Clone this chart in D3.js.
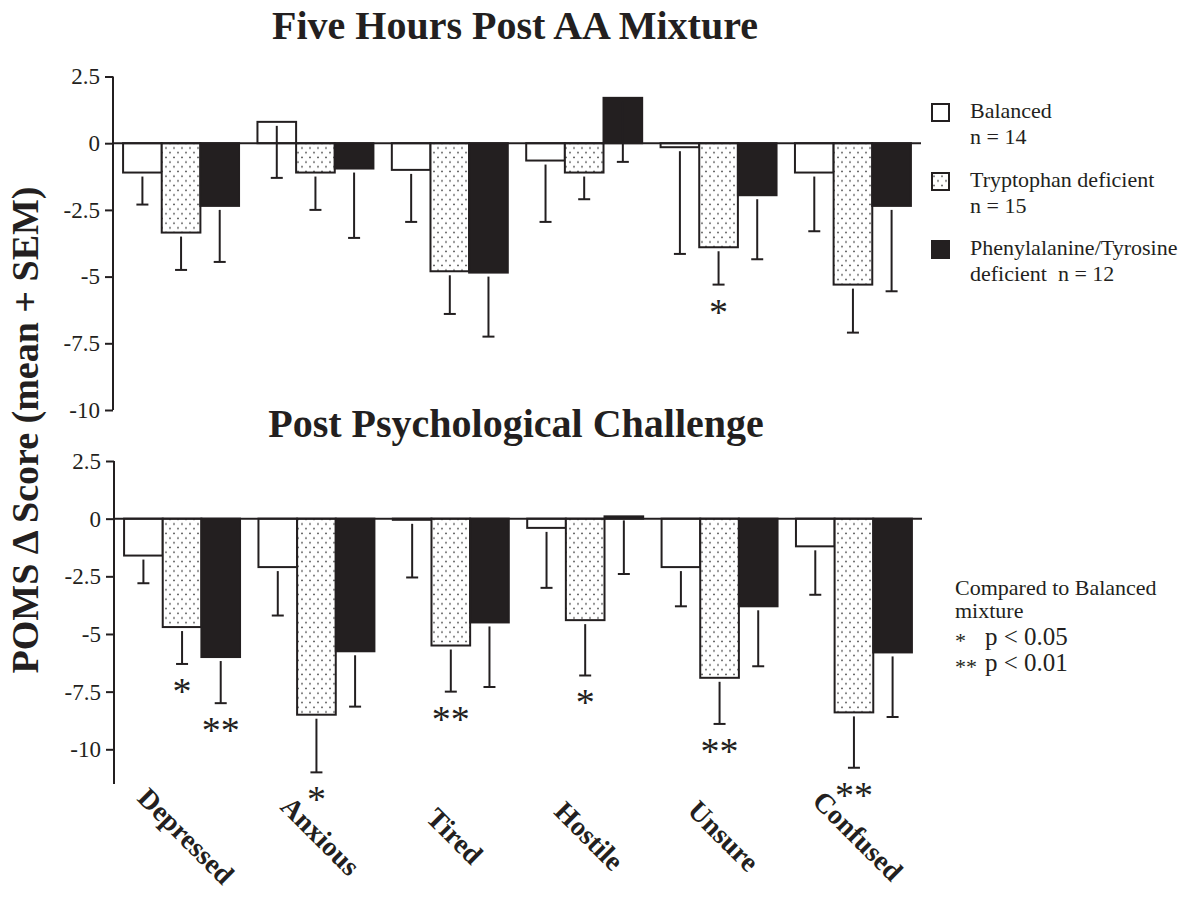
<!DOCTYPE html>
<html>
<head>
<meta charset="utf-8">
<script src="https://cdn.jsdelivr.net/npm/d3@7/dist/d3.min.js"></script>
<style>
  html, body { margin: 0; padding: 0; background: #fff; }
  svg { display: block; }
  svg text { font-family: "Liberation Serif", "Times New Roman", serif; }
</style>
</head>
<body>
<svg id="chart" width="1202" height="897"></svg>
<script>
// ---------- DATA ----------
const categories = ["Depressed", "Anxious", "Tired", "Hostile", "Unsure", "Confused"];
const seriesNames = ["Balanced", "Tryptophan deficient", "Phenylalanine/Tyrosine deficient"];
const seriesKeys = ["bal", "tryp", "phe"];

// Panel 1: Five Hours Post AA Mixture
const topBal      = [-1.1, 0.8, -1.0, -0.65, -0.15, -1.1];
const topBalSem   = [1.2, 2.1, 1.95, 2.3, 4.0, 2.2];
const topTryp     = [-3.35, -1.1, -4.8, -1.1, -3.9, -5.3];
const topTrypSem  = [1.4, 1.4, 1.6, 1.0, 1.4, 1.8];
const topPhe      = [-2.35, -0.95, -4.85, 1.7, -1.95, -2.35];
const topPheSem   = [2.1, 2.6, 2.4, 2.4, 2.4, 3.2];
const topSigBal   = ["", "", "", "", "", ""];
const topSigTryp  = ["", "", "", "", "*", ""];
const topSigPhe   = ["", "", "", "", "", ""];

// Panel 2: Post Psychological Challenge
const botBal      = [-1.6, -2.1, -0.05, -0.4, -2.1, -1.2];
const botBalSem   = [1.2, 2.1, 2.5, 2.6, 1.7, 2.1];
const botTryp     = [-4.7, -8.5, -5.5, -4.4, -6.9, -8.4];
const botTrypSem  = [1.6, 2.5, 2.0, 2.4, 2.0, 2.4];
const botPhe      = [-6.0, -5.75, -4.5, 0.1, -3.8, -5.8];
const botPheSem   = [2.0, 2.4, 2.8, 2.5, 2.6, 2.8];
const botSigBal   = ["", "", "", "", "", ""];
const botSigTryp  = ["*", "*", "**", "*", "**", "**"];
const botSigPhe   = ["**", "", "", "", "", ""];

const tickValues = [2.5, 0, -2.5, -5, -7.5, -10];
const tickLabels = ["2.5", "0", "-2.5", "-5", "-7.5", "-10"];

const titleTop = "Five Hours Post AA Mixture";
const titleBot = "Post Psychological Challenge";
const yTitle = "POMS \u0394 Score (mean + SEM)";
const legendLines = [["Balanced", "n = 14"], ["Tryptophan deficient", "n = 15"], ["Phenylalanine/Tyrosine", "deficient  n = 12"]];
const sigLegend = ["Compared to Balanced", "mixture"];
const sigLegendMarks = [["*", "p < 0.05"], ["**", "p < 0.01"]];

// ---------- DRAW ----------
const INK = "#231f20";
const SERIF = "'Liberation Serif', 'Times New Roman', serif";
const svg = d3.select("#chart");
svg.append("rect").attr("width", 1202).attr("height", 897).attr("fill", "#fff");

const defs = svg.append("defs");
const pat = defs.append("pattern").attr("id", "dots").attr("patternUnits", "userSpaceOnUse")
  .attr("width", 8).attr("height", 9.4);
pat.append("rect").attr("width", 8).attr("height", 9.4).attr("fill", "#fff");
pat.append("circle").attr("cx", 2).attr("cy", 2.3).attr("r", 0.8).attr("fill", "#333");
pat.append("circle").attr("cx", 6).attr("cy", 7).attr("r", 0.8).attr("fill", "#333");

const fills = { bal: "#fff", tryp: "url(#dots)", phe: INK };

function panel(cfg) {
  const g = svg.append("g");
  const x = d3.scaleBand().domain(categories).range(cfg.xRange).paddingInner(0.137).paddingOuter(0.075);
  const xs = d3.scaleBand().domain(seriesKeys).range([0, x.bandwidth()]);
  const y = d3.scaleLinear().domain([2.5, -10]).range(cfg.yRange);

  const rows = [];
  categories.forEach((c, i) => {
    seriesKeys.forEach(k => {
      rows.push({ cat: c, key: k, v: cfg.data[k][i], sem: cfg.sem[k][i], sig: cfg.sig[k][i] });
    });
  });

  // bars
  g.selectAll("rect.bar").data(rows).join("rect").attr("class", "bar")
    .attr("x", d => x(d.cat) + xs(d.key))
    .attr("width", xs.bandwidth())
    .attr("y", d => Math.min(y(d.v), y(0)))
    .attr("height", d => Math.abs(y(d.v) - y(0)))
    .attr("fill", d => fills[d.key])
    .attr("stroke", INK).attr("stroke-width", 2);

  // error bars (drawn downward: mean - SEM)
  const eb = g.selectAll("g.eb").data(rows).join("g").attr("class", "eb")
    .attr("transform", d => `translate(${x(d.cat) + xs(d.key) + xs.bandwidth() / 2},0)`);
  eb.append("line").attr("x1", 0).attr("x2", 0)
    .attr("y1", d => y(d.v) + 4).attr("y2", d => y(d.v - d.sem))
    .attr("stroke", INK).attr("stroke-width", 2);
  eb.append("line").attr("x1", -6).attr("x2", 6)
    .attr("y1", d => y(d.v - d.sem)).attr("y2", d => y(d.v - d.sem))
    .attr("stroke", INK).attr("stroke-width", 2);
  eb.filter(d => d.sig).append("text")
    .attr("x", 0).attr("y", d => y(d.v - d.sem) + 40)
    .attr("text-anchor", "middle").attr("font-size", 38).attr("fill", INK)
    .style("font-family", SERIF)
    .text(d => d.sig);

  // zero line
  g.append("line").attr("x1", cfg.xRange[0]).attr("x2", cfg.xRange[1])
    .attr("y1", y(0)).attr("y2", y(0)).attr("stroke", INK).attr("stroke-width", 2);

  // y axis
  const axis = d3.axisLeft(y).tickValues(tickValues).tickSize(8).tickPadding(5)
    .tickFormat((d, i) => tickLabels[i]);
  const ag = g.append("g").attr("transform", `translate(${cfg.xRange[0]},0)`).call(axis);
  ag.attr("font-family", null).attr("font-size", null);
  ag.select(".domain").remove();
  ag.append("line").attr("x1", 0).attr("x2", 0)
    .attr("y1", y(2.5)).attr("y2", y(cfg.axisEnd)).attr("stroke", INK).attr("stroke-width", 2);
  ag.selectAll(".tick line").attr("stroke", INK).attr("stroke-width", 2);
  ag.selectAll(".tick text").attr("fill", INK)
    .style("font-family", SERIF).style("font-size", "23px");

  // title
  svg.append("text").attr("x", cfg.titleX).attr("y", cfg.titleY)
    .attr("text-anchor", "middle").attr("font-size", 40).attr("font-weight", "bold")
    .style("font-family", SERIF)
    .attr("fill", INK).text(cfg.title);
  return x;
}

panel({
  xRange: [113, 921], yRange: [76.5, 410], axisEnd: -10,
  data: { bal: topBal, tryp: topTryp, phe: topPhe },
  sem: { bal: topBalSem, tryp: topTrypSem, phe: topPheSem },
  sig: { bal: topSigBal, tryp: topSigTryp, phe: topSigPhe },
  title: titleTop, titleX: 515, titleY: 39
});

const xb = panel({
  xRange: [114, 922], yRange: [461, 749.3], axisEnd: -11.5,
  data: { bal: botBal, tryp: botTryp, phe: botPhe },
  sem: { bal: botBalSem, tryp: botTrypSem, phe: botPheSem },
  sig: { bal: botSigBal, tryp: botSigTryp, phe: botSigPhe },
  title: titleBot, titleX: 516, titleY: 437
});

// category labels (rotated)
svg.append("g").selectAll("text").data(categories).join("text")
  .attr("transform", d => `translate(${xb(d) + xb.bandwidth() / 2 + 4},836) rotate(45)`)
  .attr("text-anchor", "middle").attr("dominant-baseline", "central")
  .attr("font-size", 28).attr("font-weight", "bold").attr("fill", INK)
  .style("font-family", SERIF)
  .text(d => d);

// y axis title
svg.append("text").attr("transform", "translate(38,430) rotate(-90)")
  .attr("text-anchor", "middle").attr("font-size", 38).attr("font-weight", "bold")
  .style("font-family", SERIF)
  .attr("fill", INK).text(yTitle);

// legend
const legY = [104, 173, 241];
const lg = svg.append("g");
seriesKeys.forEach((k, i) => {
  lg.append("rect").attr("x", 932).attr("y", legY[i]).attr("width", 17).attr("height", 17)
    .attr("fill", fills[k]).attr("stroke", INK).attr("stroke-width", 2);
  legendLines[i].forEach((t, j) => {
    lg.append("text").attr("x", 970).attr("y", legY[i] + 14 + j * 25.5)
      .attr("font-size", 22).attr("fill", INK).style("font-family", SERIF)
      .style("white-space", "pre").text(t);
  });
});

// significance legend
sigLegend.forEach((t, j) => {
  lg.append("text").attr("x", 955).attr("y", 595 + j * 23)
    .attr("font-size", 22).attr("fill", INK).style("font-family", SERIF).text(t);
});
sigLegendMarks.forEach((m, j) => {
  lg.append("text").attr("x", 955).attr("y", 648 + j * 26)
    .attr("font-size", 22).attr("fill", INK).style("font-family", SERIF).text(m[0]);
  lg.append("text").attr("x", 985).attr("y", 645 + j * 26)
    .attr("font-size", 25).attr("fill", INK).style("font-family", SERIF).text(m[1]);
});
</script>
</body>
</html>
